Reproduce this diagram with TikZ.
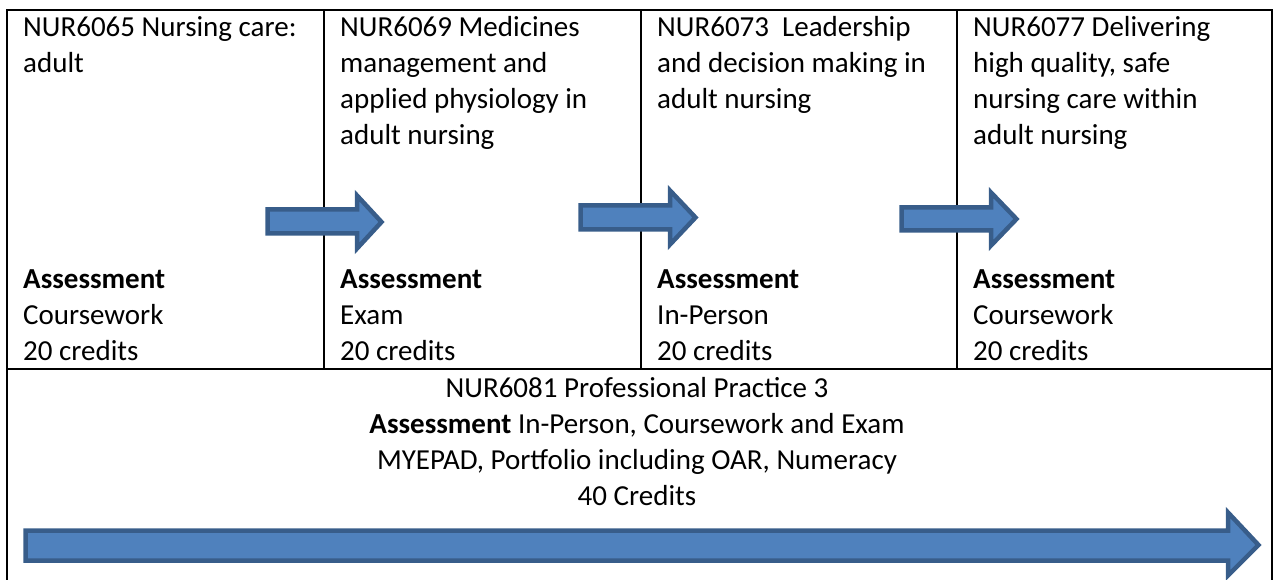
\documentclass[tikz,border=0pt]{standalone}
\usepackage{fontspec}
\setmainfont{Carlito}
\definecolor{arrowfill}{HTML}{4F81BD}
\definecolor{arrowline}{HTML}{385D8A}
\tikzset{
  grid/.style={draw=black, line width=2.6pt},
  blockarrow/.style={fill=arrowfill, draw=arrowline, line width=4.5pt, line join=miter},
  celltext/.style={inner sep=0pt, anchor=base west, align=left, font=\fontsize{29}{36}\selectfont},
  bottomtext/.style={inner sep=0pt, anchor=base, align=center, font=\fontsize{29}{36}\selectfont}
}
\begin{document}
\begin{tikzpicture}[x=1pt,y=-1pt]
\useasboundingbox (0,0) rectangle (1278,580);
% table
\draw[grid] (7,585) -- (7,10) -- (1272,10) -- (1272,585);
\draw[grid] (7,369) -- (1272,369);
\draw[grid] (324,10) -- (324,369);
\draw[grid] (641,10) -- (641,369);
\draw[grid] (957,10) -- (957,369);
% texts (base anchor = baseline of last line)
\node[celltext] (t1) at (23,73) {NUR6065 Nursing care:\\adult};
\node[celltext] (t2) at (340,145) {NUR6069 Medicines\\management and\\applied physiology in\\adult nursing};
\node[celltext] (t3) at (657,109) {NUR6073~ Leadership\\and decision making in\\adult nursing};
\node[celltext] (t4) at (973,145) {NUR6077 Delivering\\high quality, safe\\nursing care within\\adult nursing};
\node[celltext] (a1) at (23,360) {\textbf{Assessment}\\Coursework\\20 credits};
\node[celltext] (a2) at (340,360) {\textbf{Assessment}\\Exam\\20 credits};
\node[celltext] (a3) at (657,360) {\textbf{Assessment}\\In-Person\\20 credits};
\node[celltext] (a4) at (973,360) {\textbf{Assessment}\\Coursework\\20 credits};
\node[bottomtext] (b) at (637,505) {NUR6081 Professional Practice 3\\\textbf{Assessment} In-Person, Coursework and Exam\\MYEPAD, Portfolio including OAR, Numeracy\\40 Credits};
% arrows
\draw[blockarrow] (267.5,209.5) -- (357,209.5) -- (357,195.5) -- (381.5,222) -- (357,248.5) -- (357,233.5) -- (267.5,233.5) -- cycle;
\draw[blockarrow] (580.5,205.5) -- (670,205.5) -- (670,190.5) -- (695.5,217.5) -- (670,244.5) -- (670,229.5) -- (580.5,229.5) -- cycle;
\draw[blockarrow] (901.5,207.5) -- (991,207.5) -- (991,192.5) -- (1016.5,219) -- (991,245.5) -- (991,230.5) -- (901.5,230.5) -- cycle;
\draw[blockarrow] (25.5,530.5) -- (1228,530.5) -- (1228,512.5) -- (1258.5,545) -- (1228,575.5) -- (1228,560.5) -- (25.5,560.5) -- cycle;
\end{tikzpicture}
\end{document}
